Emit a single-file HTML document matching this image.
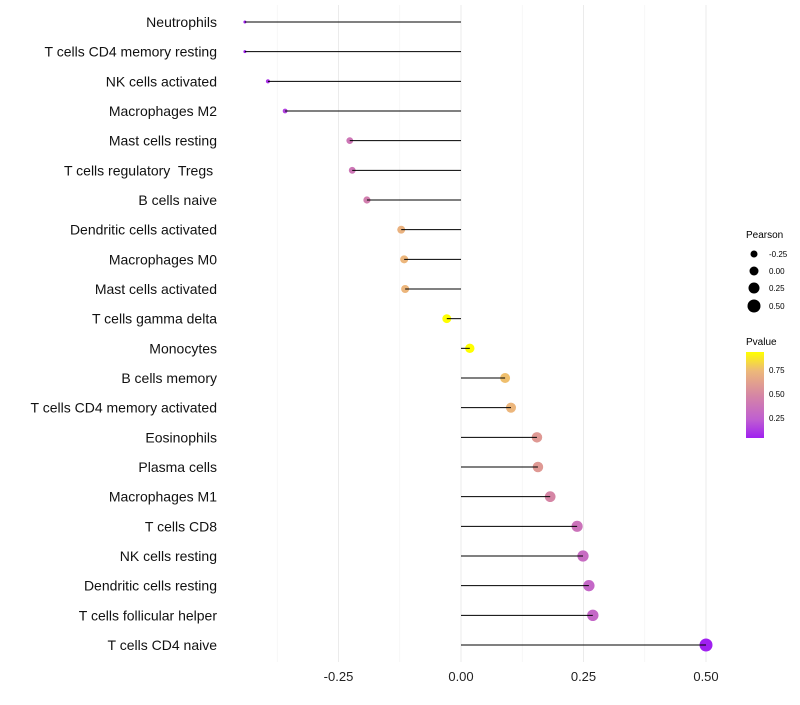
<!DOCTYPE html>
<html><head><meta charset="utf-8"><style>
body{margin:0;background:#fff;font-family:"Liberation Sans",sans-serif}
text{white-space:pre}
</style></head><body>
<svg id="c" width="800" height="700" xmlns="http://www.w3.org/2000/svg">
<defs><linearGradient id="pg" x1="0" y1="1" x2="0" y2="0">
<stop offset="0" stop-color="#a020f0"/><stop offset="0.22" stop-color="#c060d0"/><stop offset="0.49" stop-color="#d585a5"/><stop offset="0.78" stop-color="#edb87a"/><stop offset="1" stop-color="#ffff00"/>
</linearGradient></defs>
<g id="grid"></g><g id="marks"></g><g id="stems"></g><g id="labels"></g>
<g font-size="9">
<text x="746" y="238" font-size="10">Pearson</text>
<circle cx="754" cy="254" r="3.5"/><text x="769" y="257" font-size="8">-0.25</text>
<circle cx="754" cy="271" r="4.5"/><text x="769" y="274" font-size="8">0.00</text>
<circle cx="754" cy="288" r="5.5"/><text x="769" y="291" font-size="8">0.25</text>
<circle cx="754" cy="306" r="6.5"/><text x="769" y="309" font-size="8">0.50</text>
</g>
<g>
<text x="746" y="345" font-size="10">Pvalue</text>
<rect x="746" y="352" width="18" height="86" fill="url(#pg)"/>
<text x="769" y="373" font-size="8">0.75</text>
<text x="769" y="397" font-size="8">0.50</text>
<text x="769" y="421" font-size="8">0.25</text>
</g>
</svg>
<script>
const cells=["Neutrophils","T cells CD4 memory resting","NK cells activated","Macrophages M2","Mast cells resting","T cells regulatory  Tregs ","B cells naive","Dendritic cells activated","Macrophages M0","Mast cells activated","T cells gamma delta","Monocytes","B cells memory","T cells CD4 memory activated","Eosinophils","Plasma cells","Macrophages M1","T cells CD8","NK cells resting","Dendritic cells resting","T cells follicular helper","T cells CD4 naive"];
const pearson=[-0.441,-0.441,-0.394,-0.359,-0.227,-0.222,-0.192,-0.122,-0.116,-0.114,-0.029,0.018,0.090,0.102,0.155,0.157,0.182,0.237,0.249,0.261,0.269,0.5];
const pvalue=[0.03,0.03,0.1,0.15,0.4,0.4,0.45,0.72,0.74,0.74,0.95,0.97,0.77,0.74,0.6,0.6,0.5,0.38,0.33,0.3,0.3,0.03];
const ticks=[-0.25,0,0.25,0.5];
const tickLabels=["-0.25","0.00","0.25","0.50"];
const NS="http://www.w3.org/2000/svg";
const x=v=>461+v*490;
const y=i=>22+i*(645-22)/(cells.length-1);
const r=v=>Math.sqrt(2.25+Math.max(0,(v+0.441)/0.941)*40);
function col(p){
 const st=[[0.04,[160,32,240]],[0.25,[192,96,208]],[0.5,[213,133,165]],[0.75,[237,184,122]],[0.94,[255,255,0]]];
 if(p<=st[0][0])return "rgb("+st[0][1]+")";
 for(let k=1;k<st.length;k++){if(p<=st[k][0]){const t=(p-st[k-1][0])/(st[k][0]-st[k-1][0]);const a=st[k-1][1],b=st[k][1];return "rgb("+a.map((v,j)=>Math.round(v+(b[j]-v)*t))+")";}}
 return "rgb(255,255,0)";
}
function mk(t,a,p){const e=document.createElementNS(NS,t);for(const k in a)e.setAttribute(k,a[k]);p.appendChild(e);return e;}
const grid=document.getElementById('grid'),marks=document.getElementById('marks'),stems=document.getElementById('stems'),labels=document.getElementById('labels');
[-0.375,-0.125,0.125,0.375].forEach(v=>{const l=mk('line',{x1:x(v),x2:x(v),y1:5,y2:662,stroke:'#f3f3f3','stroke-width':0.6},grid);

});
ticks.forEach((v,i)=>{const l=mk('line',{x1:x(v),x2:x(v),y1:5,y2:662,stroke:'#ebebeb','stroke-width':1},grid);


const t=mk('text',{x:x(v),y:681,'text-anchor':'middle','font-size':13,fill:'#222'},labels);t.textContent=tickLabels[i];

});
cells.forEach((c,i)=>{
 const d=mk('circle',{cx:x(pearson[i]),cy:y(i),r:r(pearson[i]),fill:col(pvalue[i])},marks);
 
 
 const ln=mk('line',{x1:x(0),x2:x(pearson[i]),y1:y(i),y2:y(i),stroke:'#000','stroke-width':1},stems);
 
 
 const t=mk('text',{x:217,y:y(i)+5,'text-anchor':'end','font-size':14,fill:'#111'},labels);t.textContent=c;
 
 
});
</script>
</body></html>
